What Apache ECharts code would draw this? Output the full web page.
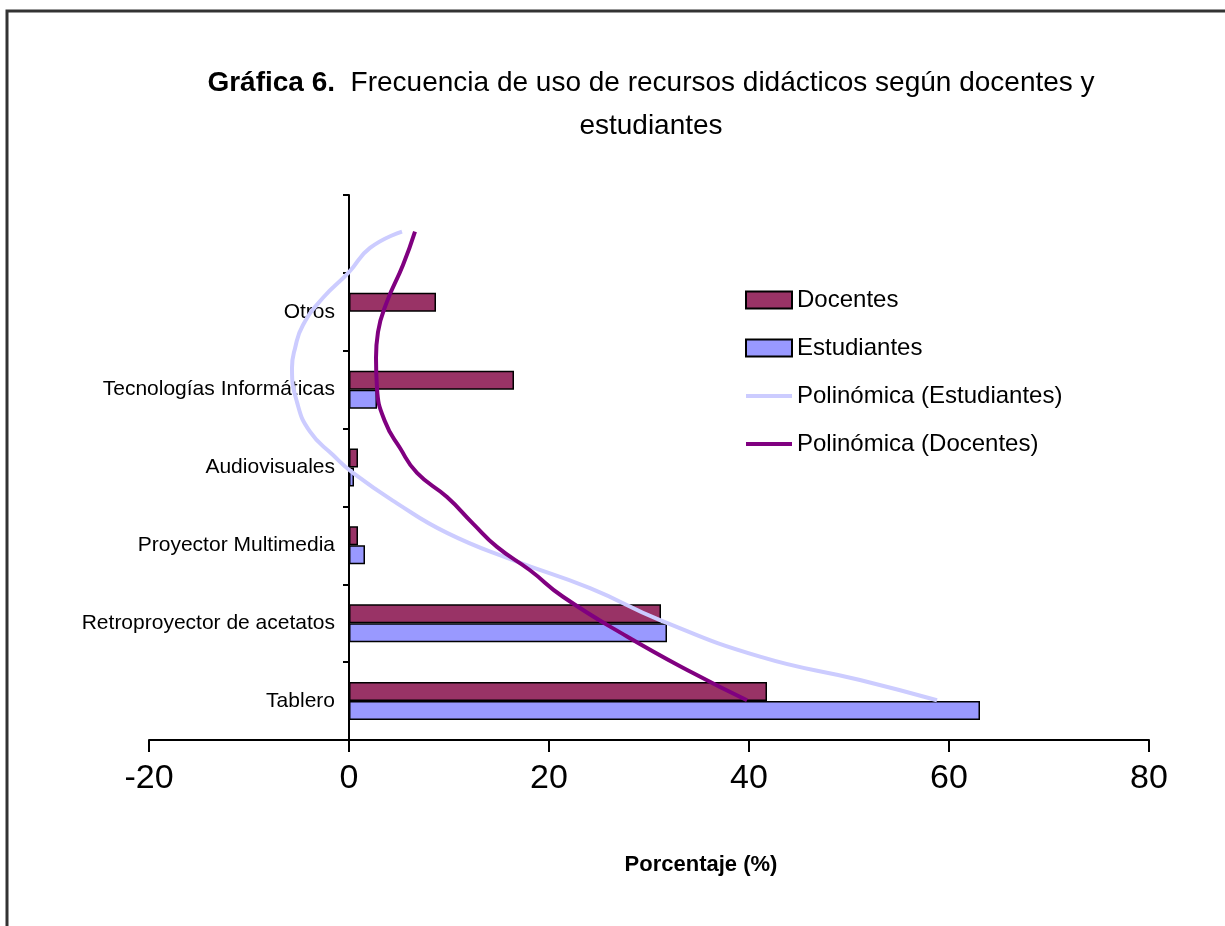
<!DOCTYPE html>
<html>
<head>
<meta charset="utf-8">
<script src="https://cdn.jsdelivr.net/npm/echarts@6/dist/echarts.min.js"></script>
<style>html,body{margin:0;padding:0;background:#fff}#grafica{width:1225px;height:926px}</style>
</head>
<body>
<div id="grafica"></div>
<script>
var categorias = ['Tablero', 'Retroproyector de acetatos', 'Proyector Multimedia', 'Audiovisuales', 'Tecnologías Informáticas', 'Otros', ''];
var docentes = [41.8, 31.2, 0.9, 0.9, 16.5, 8.7, null];
var estudiantes = [63.1, 31.8, 1.6, 0.5, 2.8, 0, null];
// lineas de tendencia: [porcentaje, posicion de categoria (1 = Tablero)]
var tendEstudiantes = [[58.8,1.01],[51.1,1.27],[41.1,1.57],[31.1,2.04],[24.1,2.45],[16.4,2.81],[9.8,3.16],[4.8,3.54],[0.4,3.93],[-1.6,4.16],[-3.9,4.46],[-5.2,4.84],[-5.7,5.28],[-5.4,5.53],[-4.6,5.83],[-2.6,6.18],[0,6.51],[2.1,6.82],[5.3,7.03]];
var tendDocentes = [[39.8,1.01],[34.4,1.36],[27.8,1.83],[21.4,2.34],[18.1,2.68],[14.8,2.98],[12.4,3.28],[9.8,3.62],[6.8,3.93],[5.1,4.25],[3.6,4.59],[2.8,5.02],[2.7,5.41],[2.9,5.74],[3.8,6.13],[5.4,6.60],[6.6,7.03]];
var nombres = ['Docentes', 'Estudiantes', 'Polinómica (Estudiantes)', 'Polinómica (Docentes)'];

var fuente = "'Liberation Sans Narrow','Arial Narrow','Liberation Sans',sans-serif";
var iconoLinea = 'path://M0,0H46V4H0Z';
var chart = echarts.init(document.getElementById('grafica'));

var option = {
    backgroundColor: '#fff',
    animation: false,
    title: {
        text: '{b|Gráfica 6.}  Frecuencia de uso de recursos didácticos según docentes y\nestudiantes',
        left: 646,
        top: 57,
        textAlign: 'center',
        textStyle: {
            fontFamily: fuente,
            fontSize: 28,
            fontWeight: 'normal',
            color: '#000',
            lineHeight: 43,
            rich: {
                b: { fontFamily: fuente, fontSize: 28, fontWeight: 'bold', color: '#000', lineHeight: 43 }
            }
        }
    },
    legend: {
        data: [
            { name: nombres[0], icon: 'rect' },
            { name: nombres[1], icon: 'rect' },
            { name: nombres[2], icon: iconoLinea },
            { name: nombres[3], icon: iconoLinea }
        ],
        orient: 'vertical',
        left: 740,
        top: 283,
        itemWidth: 46,
        itemHeight: 17,
        itemGap: 24,
        textStyle: { fontFamily: fuente, fontSize: 24, color: '#000', lineHeight: 24 }
    },
    grid: { left: 149, right: 76, top: 195, bottom: 186, containLabel: false, outerBoundsMode: 'none' },
    xAxis: {
        type: 'value',
        min: -20,
        max: 80,
        interval: 20,
        splitLine: { show: false },
        axisLine: { show: true, onZero: false, lineStyle: { color: '#000', width: 2 } },
        axisTick: { show: true, length: 12, lineStyle: { color: '#000', width: 2 } },
        axisLabel: { fontFamily: fuente, fontSize: 34, color: '#000', margin: 22 }
    },
    yAxis: [
        {
            type: 'category',
            data: categorias,
            position: 'left',
            offset: -200,
            axisLine: { onZero: false, lineStyle: { color: '#000', width: 2 } },
            axisTick: { show: true, length: 6, lineStyle: { color: '#000', width: 2 } },
            axisLabel: { fontFamily: fuente, fontSize: 21, color: '#000', margin: 14 }
        },
        {
            type: 'value',
            min: 0.5,
            max: 7.5,
            show: false
        }
    ],
    series: [
        {
            name: 'Docentes',
            type: 'bar',
            data: docentes,
            barWidth: 19,
            barGap: '0%',
            itemStyle: { color: '#993366', borderColor: '#000', borderWidth: 1.5 }
        },
        {
            name: 'Estudiantes',
            type: 'bar',
            data: estudiantes,
            barWidth: 19,
            barGap: '0%',
            itemStyle: { color: '#9999FF', borderColor: '#000', borderWidth: 1.5 }
        },
        {
            name: 'Polinómica (Estudiantes)',
            type: 'line',
            yAxisIndex: 1,
            data: tendEstudiantes,
            smooth: true,
            symbol: 'none',
            lineStyle: { color: '#CCCCFF', width: 4 },
            itemStyle: { color: '#CCCCFF' }
        },
        {
            name: 'Polinómica (Docentes)',
            type: 'line',
            yAxisIndex: 1,
            data: tendDocentes,
            smooth: true,
            symbol: 'none',
            lineStyle: { color: '#800080', width: 4 },
            itemStyle: { color: '#800080' }
        }
    ],
    graphic: [
        {
            type: 'rect',
            silent: true,
            shape: { x: 7, y: 11, width: 1400, height: 1200 },
            style: { fill: 'none', stroke: '#333', lineWidth: 3 }
        },
        {
            type: 'text',
            x: 701,
            y: 865,
            style: {
                text: 'Porcentaje (%)',
                fontFamily: fuente,
                fontSize: 22,
                fontWeight: 'bold',
                fill: '#000',
                align: 'center',
                verticalAlign: 'middle'
            }
        }
    ]
};
chart.setOption(option);
</script>
</body>
</html>
